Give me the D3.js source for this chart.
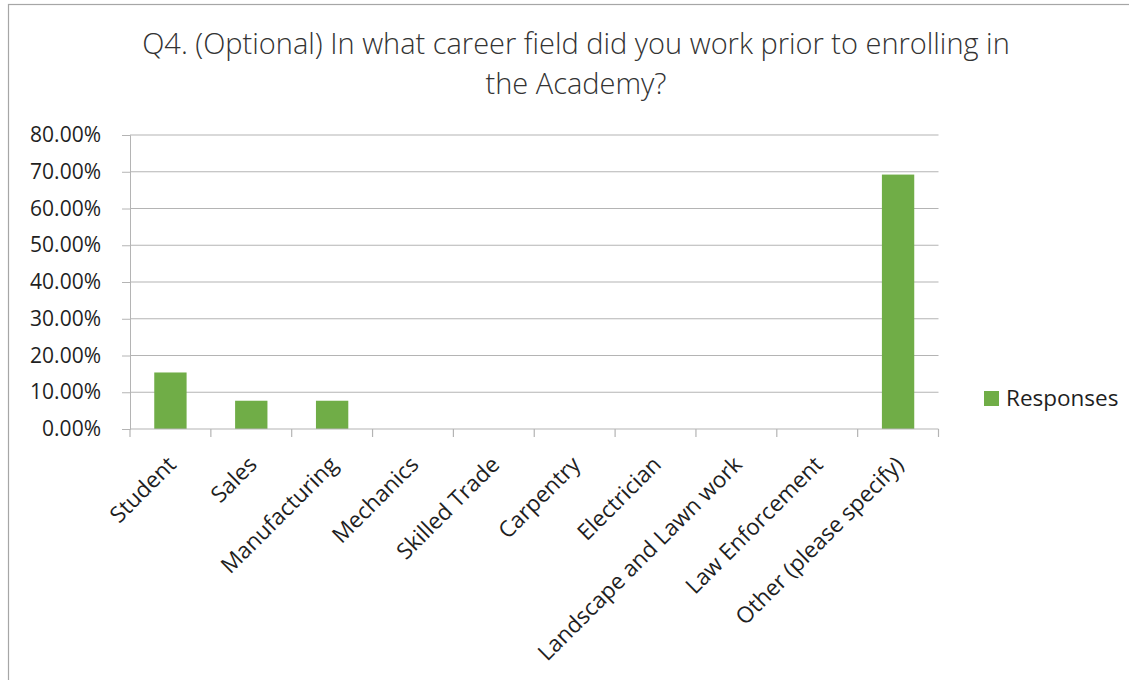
<!DOCTYPE html>
<html>
<head>
<meta charset="utf-8">
<script src="https://cdn.jsdelivr.net/npm/d3@7"></script>
<style>
  html, body { margin: 0; padding: 0; background: #fff; }
  svg { display: block; }
</style>
</head>
<body>
<svg id="chart" width="1129" height="680"></svg>
<script>
const titleLines = ["Q4. (Optional) In what career field did you work prior to enrolling in", "the Academy?"];
const categories = ["Student", "Sales", "Manufacturing", "Mechanics", "Skilled Trade", "Carpentry", "Electrician", "Landscape and Lawn work", "Law Enforcement", "Other (please specify)"];
const responses = [0.1538, 0.0769, 0.0769, 0, 0, 0, 0, 0, 0, 0.6923];
const yTicks = [0, 0.1, 0.2, 0.3, 0.4, 0.5, 0.6, 0.7, 0.8];
const seriesName = "Responses";

(function () {
const svg = d3.select("#chart");
const font = "Open Sans, Noto Sans, sans-serif";
const gridColor = "#b4b4b4";
const barColor = "#70ad47";
const textColor = "#1f1f1f";

// outer border
svg.append("rect").attr("x", 8.5).attr("y", 4.5).attr("width", 1140).attr("height", 720)
  .attr("fill", "#fff").attr("stroke", "#a6a6a6").attr("stroke-width", 1.2);

const pLeft = 130, pRight = 938.5, pTop = 135, pBottom = 429;
const x = d3.scaleBand().domain(categories).range([pLeft, pRight]).paddingInner(0.6).paddingOuter(0.3);
const xb = d3.scaleBand().domain(categories).range([pLeft, pRight]);
const y = d3.scaleLinear().domain([0, 0.8]).range([pBottom, pTop]);

// title (fit first line to reference width)
const title = svg.append("text").attr("text-anchor", "middle")
  .attr("font-family", font).attr("font-weight", 300).attr("font-size", 27).attr("fill", "#333");
const spans = titleLines.map((t, i) => title.append("tspan").attr("x", 576).attr("y", 54 + i * 40).text(t));
const w0 = spans[0].node().getComputedTextLength();
if (w0 > 0) title.attr("font-size", 27 * 868 / w0);

// y axis
const yAxis = d3.axisLeft(y).tickValues(yTicks).tickFormat(d3.format(".2%")).tickSize(8).tickPadding(21);
const gy = svg.append("g").attr("transform", `translate(${pLeft},0)`).call(yAxis);
gy.select(".domain").attr("stroke", gridColor);
gy.selectAll(".tick line").attr("stroke", gridColor);
gy.selectAll(".tick text").attr("font-family", font).attr("font-size", 21).attr("fill", textColor);

// gridlines
svg.append("g").selectAll("line").data(yTicks.filter(d => d > 0)).join("line")
  .attr("x1", pLeft).attr("x2", pRight).attr("y1", d => y(d)).attr("y2", d => y(d))
  .attr("stroke", gridColor).attr("stroke-width", 1.2);

// bars
svg.append("g").selectAll("rect").data(categories).join("rect")
  .attr("x", d => x(d)).attr("width", x.bandwidth())
  .attr("y", (d, i) => y(responses[i])).attr("height", (d, i) => y(0) - y(responses[i]))
  .attr("fill", barColor);

// x axis baseline and ticks
svg.append("line").attr("x1", pLeft).attr("x2", pRight).attr("y1", pBottom).attr("y2", pBottom)
  .attr("stroke", gridColor).attr("stroke-width", 1.2);
const bounds = categories.map(c => xb(c)).concat([pRight]);
svg.append("g").selectAll("line").data(bounds).join("line")
  .attr("x1", d => d).attr("x2", d => d).attr("y1", pBottom).attr("y2", pBottom + 8)
  .attr("stroke", gridColor).attr("stroke-width", 1.2);

// category labels
svg.append("g").selectAll("text").data(categories).join("text")
  .attr("transform", d => `translate(${xb(d) + xb.bandwidth() / 2 + 7},${pBottom + 37}) rotate(-45)`)
  .attr("text-anchor", "end").attr("font-family", font).attr("font-size", 22.5).attr("fill", textColor)
  .text(d => d);

// legend
const lg = svg.append("g").attr("transform", "translate(984,391)");
lg.append("rect").attr("width", 15).attr("height", 15).attr("fill", barColor);
lg.append("text").attr("x", 22).attr("y", 7.5).attr("dy", "0.35em")
  .attr("font-family", font).attr("font-size", 22.5).attr("fill", textColor).text(seriesName);
})();
</script>
</body>
</html>
